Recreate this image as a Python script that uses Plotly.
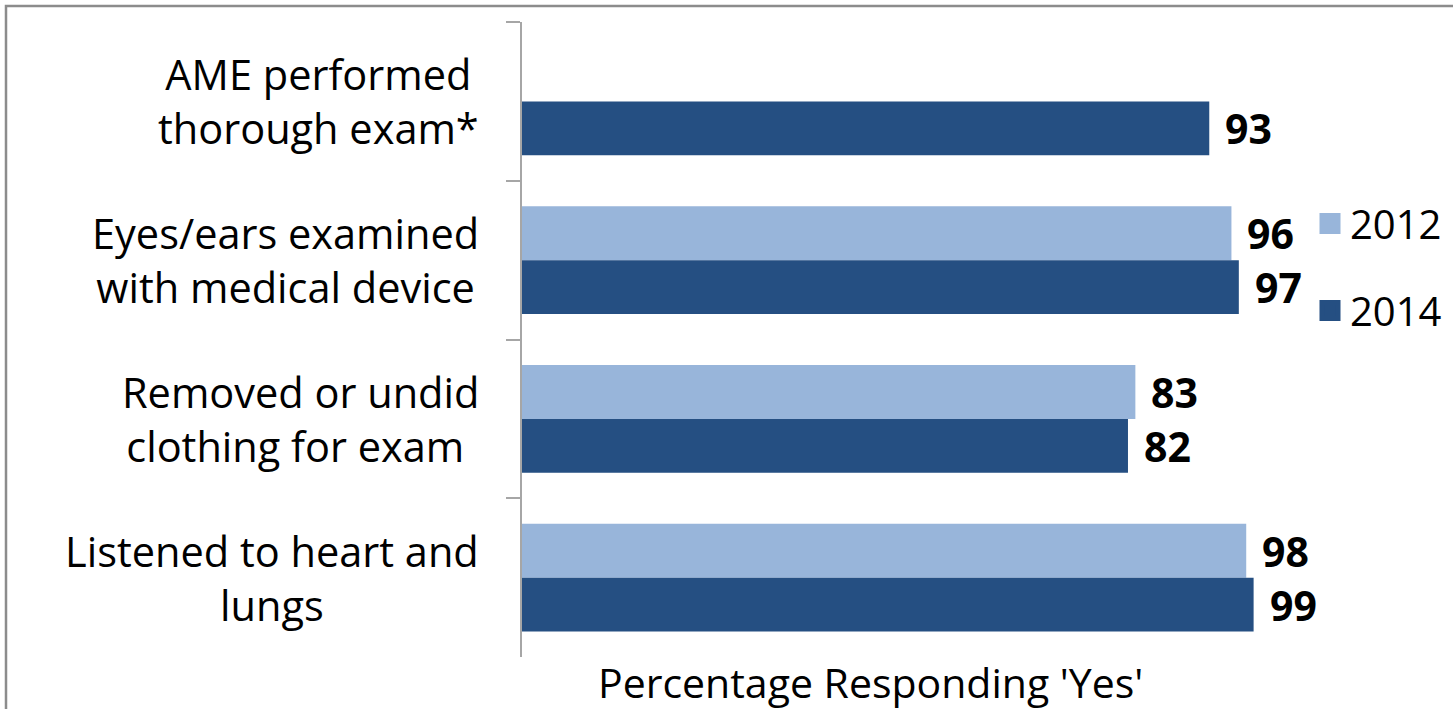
import plotly.graph_objects as go

categories = ["AME performed<br>thorough exam*",
              "Eyes/ears examined<br>with medical device",
              "Removed or undid<br>clothing for exam ",
              "Listened to heart and<br>lungs"]
series_names = ["2012", "2014"]
values_2012 = [None, 96, 83, 98]
values_2014 = [93, 97, 82, 99]
colors = ["#98B5DA", "#254F82"]
axis_title = "Percentage Responding 'Yes'"

FONT = "Open Sans"
W, H = 1453, 709
L, R, T, B = 522, 0, 22, 52
pw, ph = W - L - R, H - T - B
X100 = 1261  # pixel where 100% falls
x_max = 100 * pw / (X100 - L)

def px_x(p):
    return (p - L) / pw

def px_y(p):
    return 1 - (p - T) / ph

fig = go.Figure()
for name, vals, col in zip(series_names, [values_2012, values_2014], colors):
    fig.add_trace(go.Bar(
        y=categories, x=vals, name=name, orientation="h",
        marker=dict(color=col, line=dict(width=0)),
        legendgroup=name, showlegend=False, hoverinfo="skip",
    ))
# legend entries (large square swatches)
for name, col in zip(series_names, colors):
    fig.add_trace(go.Scatter(
        x=[None], y=[None], mode="markers", name=name, legendgroup=name,
        marker=dict(symbol="square", size=16, color=col, line=dict(color=col, width=5)),
        hoverinfo="skip",
    ))

annotations = []
for i, c in enumerate(categories):
    annotations.append(dict(
        x=px_x(481), xref="paper", y=i, yref="y", text=c, showarrow=False,
        xanchor="right", yanchor="middle", align="center",
        font=dict(family=FONT, size=41.5, color="#000000")))
offsets = [-0.17, 0.17]
for off, vals in zip(offsets, [values_2012, values_2014]):
    for i, v in enumerate(vals):
        if v is None:
            continue
        annotations.append(dict(
            x=v, xref="x", y=i + off, yref="y", text=f"<b>{v}</b>", showarrow=False,
            xanchor="left", yanchor="middle", xshift=14,
            font=dict(family=FONT, size=41, color="#000000")))
annotations.append(dict(
    x=px_x(870), xref="paper", y=px_y(682), yref="paper", text=axis_title,
    showarrow=False, xanchor="center", yanchor="middle",
    font=dict(family=FONT, size=41, color="#000000")))

fig.update_layout(
    width=W, height=H, autosize=False,
    margin=dict(l=L, r=R, t=T, b=B, pad=0, autoexpand=False),
    paper_bgcolor="white", plot_bgcolor="white",
    barmode="group", bargap=0.32, bargroupgap=0,
    font=dict(family=FONT, size=40, color="#000000"),
    showlegend=True,
    legend=dict(x=px_x(1310), y=px_y(191), xanchor="left", yanchor="top",
                traceorder="grouped", tracegroupgap=32,
                font=dict(family=FONT, size=40, color="#000000"),
                bgcolor="rgba(0,0,0,0)", itemwidth=30),
    annotations=annotations,
    shapes=[dict(type="rect", xref="paper", yref="paper",
                 x0=px_x(6), x1=px_x(1500), y0=px_y(760), y1=px_y(6),
                 line=dict(color="#8C8C8C", width=2.5), layer="below")],
)
fig.update_xaxes(range=[0, x_max], visible=False, showgrid=False, zeroline=False)
fig.update_yaxes(
    type="category", categoryorder="array", categoryarray=categories,
    autorange=False, range=[len(categories) - 0.5, -0.5],
    showticklabels=False,
    ticks="outside", tickson="boundaries", ticklen=14, tickcolor="#A6A6A6", tickwidth=2,
    showline=True, linecolor="#A6A6A6", linewidth=2, showgrid=False, zeroline=False,
)

fig.write_html("out.html", config={"displayModeBar": False},
               post_script="document.body.style.margin='0';")
